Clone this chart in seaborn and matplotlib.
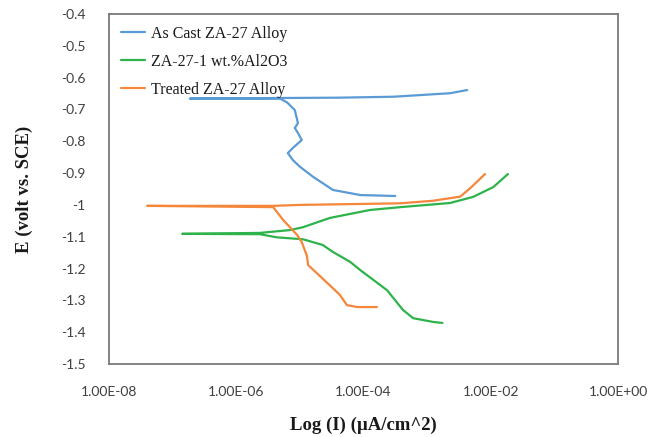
import numpy as np
import pandas as pd
import matplotlib
matplotlib.use("Agg")
import matplotlib.pyplot as plt
import seaborn as sns

# ---- data (log10 of current, potential in V vs SCE), path order as scanned ----
series_names = ["As Cast ZA-27 Alloy", "ZA-27-1 wt.%Al2O3", "Treated ZA-27 Alloy"]
series_colors = ["#5B9BD5", "#2EB34B", "#F5863A"]

ascast_logi = [-3.50, -4.05, -4.48, -4.79, -5.00, -5.11, -5.19, -5.11, -4.97, -5.03,
               -5.08, -5.03, -5.08, -5.20, -5.31, -6.73, -5.31, -4.40, -3.53, -2.64, -2.37]
ascast_e = [-0.972, -0.969, -0.953, -0.912, -0.880, -0.859, -0.837, -0.821, -0.796, -0.774,
            -0.758, -0.743, -0.702, -0.678, -0.666, -0.666, -0.664, -0.663, -0.660, -0.649, -0.639]

composite_logi = [-2.76, -2.90, -3.22, -3.38, -3.63, -4.05, -4.21, -4.48, -4.64, -4.95,
                  -5.36, -5.63, -6.85, -5.63, -5.15, -4.95, -4.53, -3.90, -3.42, -2.64,
                  -2.28, -1.96, -1.73]
composite_e = [-1.371, -1.368, -1.356, -1.330, -1.268, -1.205, -1.179, -1.148, -1.126, -1.108,
               -1.102, -1.092, -1.091, -1.088, -1.079, -1.070, -1.041, -1.016, -1.007, -0.994,
               -0.975, -0.944, -0.903]

treated_logi = [-3.79, -4.10, -4.26, -4.37, -4.57, -4.87, -4.89, -4.97, -5.04, -5.26,
                -5.42, -7.40, -5.42, -5.00, -3.42, -2.91, -2.48, -2.32, -2.09]
treated_e = [-1.321, -1.321, -1.315, -1.283, -1.245, -1.189, -1.160, -1.117, -1.095, -1.048,
             -1.007, -1.003, -1.003, -1.000, -0.995, -0.987, -0.974, -0.947, -0.903]

xtick_values = [1e-8, 1e-6, 1e-4, 1e-2, 1e0]
xtick_labels = ["1.00E-08", "1.00E-06", "1.00E-04", "1.00E-02", "1.00E+00"]
ytick_values = [-1.5, -1.4, -1.3, -1.2, -1.1, -1.0, -0.9, -0.8, -0.7, -0.6, -0.5, -0.4]

sns.set_style("white")
plt.rcParams["font.family"] = ["Liberation Serif", "DejaVu Serif"]

frames = []
for name, li, e in [(series_names[0], ascast_logi, ascast_e),
                    (series_names[1], composite_logi, composite_e),
                    (series_names[2], treated_logi, treated_e)]:
    frames.append(pd.DataFrame({"I": 10.0 ** np.array(li), "E": e, "series": name}))
df = pd.concat(frames, ignore_index=True)

fig = plt.figure(figsize=(6.57, 4.37), dpi=100)
ax = fig.add_axes([109 / 657, 1 - 364 / 437, (618 - 109) / 657, (364 - 14) / 437])

for name, col in zip(series_names, series_colors):
    sub = df[df["series"] == name]
    sns.lineplot(data=sub, x="I", y="E", sort=False, estimator=None, color=col,
                 linewidth=1.6, ax=ax, label=name)

ax.set_xscale("log")
ax.set_xlim(1e-8, 1e0)
ax.set_ylim(-1.5, -0.4)
ax.set_xticks(xtick_values)
ax.set_xticklabels(xtick_labels)
ax.minorticks_off()
ax.set_yticks(ytick_values)
ax.set_yticklabels([f"{v:g}" for v in ytick_values])

for lab in ax.get_xticklabels() + ax.get_yticklabels():
    lab.set_fontfamily(["Lato", "DejaVu Sans"])
    lab.set_fontsize(10)
    lab.set_color("#404040")
ax.tick_params(axis="x", length=0, pad=16)
ax.tick_params(axis="y", length=0, pad=17)

for s in ax.spines.values():
    s.set_color("#7a7a7a")
    s.set_linewidth(1.3)
    s.set_visible(True)

ax.set_xlabel("Log (I) (µA/cm^2)", fontsize=13.5, fontweight="bold", labelpad=13, color="#1a1a1a")
ax.set_ylabel("E (volt vs. SCE)", fontsize=13.5, fontweight="bold", labelpad=20, color="#1a1a1a")

leg = ax.legend(loc="upper left", bbox_to_anchor=(0.0, 1.0), frameon=False,
                fontsize=11.5, handlelength=1.5, handletextpad=0.35, labelspacing=0.75,
                borderaxespad=0.4, borderpad=0.35)
for t in leg.get_texts():
    t.set_color("#1a1a1a")

fig.savefig("out.png", dpi=100, facecolor="white")
